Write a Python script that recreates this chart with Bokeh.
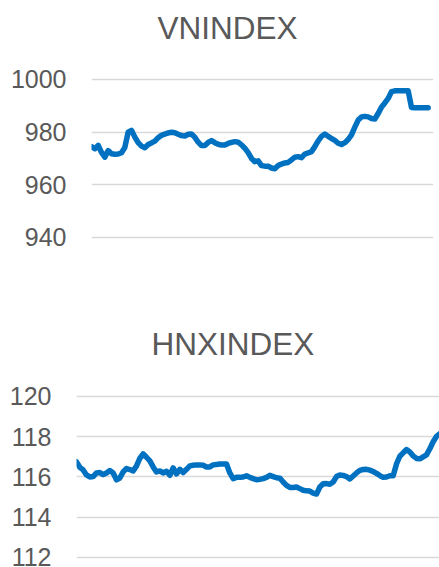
from bokeh.plotting import figure
from bokeh.models import FixedTicker, Range1d, ColumnDataSource
from bokeh.layouts import column
from bokeh.embed import file_html
from bokeh.resources import INLINE

vn_title = "VNINDEX"
vn_ticks = [940, 960, 980, 1000]
vn_values = [
    974.5, 973.7, 975.0, 972.3, 970.5, 973.0, 971.8, 971.6, 971.7, 972.2,
    974.2, 980.0, 980.7, 978.1, 976.0, 974.7, 974.1, 975.3, 975.9, 976.6,
    977.9, 978.8, 979.3, 979.7, 980.0, 979.8, 979.2, 978.7, 978.5, 979.2,
    979.3, 978.1, 976.2, 974.9, 974.9, 976.1, 976.8, 976.0, 975.4, 975.1,
    975.1, 975.7, 976.1, 976.4, 976.2, 975.2, 973.9, 972.2, 970.0, 968.8,
    969.1, 967.3, 967.1, 967.1, 966.4, 966.1, 967.3, 967.9, 968.3, 968.5,
    969.5, 970.5, 970.7, 970.3, 971.7, 972.1, 972.6, 974.5, 976.7, 978.4,
    979.3, 978.4, 977.6, 976.9, 975.8, 975.3, 976.0, 977.2, 979.0, 981.9,
    984.6, 985.8, 986.0, 985.8, 985.2, 985.0, 987.1, 989.5, 991.1, 992.8,
    995.4, 995.7, 995.7, 995.7, 995.7, 995.7, 989.4, 989.3, 989.3, 989.3,
    989.3, 989.3,
]

hnx_title = "HNXINDEX"
hnx_ticks = [112, 114, 116, 118, 120]
hnx_values = [
    116.75, 116.48, 116.35, 116.10, 116.00, 116.02, 116.20, 116.22, 116.12, 116.20,
    116.32, 116.20, 115.86, 115.95, 116.25, 116.42, 116.37, 116.30, 116.55, 116.92,
    117.15, 116.98, 116.80, 116.50, 116.25, 116.30, 116.20, 116.28, 116.08, 116.45,
    116.15, 116.38, 116.22, 116.38, 116.55, 116.58, 116.60, 116.60, 116.58, 116.50,
    116.50, 116.60, 116.62, 116.64, 116.64, 116.64, 116.20, 115.92, 115.98, 115.98,
    116.00, 116.06, 115.98, 115.92, 115.86, 115.88, 115.92, 115.98, 116.08, 116.02,
    115.96, 115.94, 115.75, 115.58, 115.48, 115.48, 115.50, 115.42, 115.34, 115.31,
    115.30, 115.20, 115.15, 115.50, 115.66, 115.67, 115.64, 115.75, 116.02, 116.10,
    116.08, 116.02, 115.90, 116.05, 116.20, 116.33, 116.37, 116.38, 116.34, 116.27,
    116.18, 116.07, 115.98, 116.00, 116.06, 116.06, 116.65, 117.03, 117.20, 117.36,
    117.24, 117.05, 116.92, 116.90, 117.00, 117.10, 117.40, 117.75, 118.02, 118.15,
]

LINE = "#0070C0"
TEXT = "#595959"
GRID = "#D9D9D9"
FONT = "Liberation Sans"


def make(title, values, ticks, yr, xr_end, w, h, bl, br, bt, bb, offset):
    src = ColumnDataSource(dict(x=list(range(len(values))), y=values))
    p = figure(width=w, height=h, output_backend="svg", toolbar_location=None,
               x_axis_type=None, x_range=Range1d(0, xr_end), y_range=Range1d(*yr),
               min_border_left=bl, min_border_right=br, min_border_top=bt,
               min_border_bottom=bb, title=title)
    if "frame_align" in p.properties():
        p.frame_align = False
    p.title.text_font = FONT
    p.title.text_font_size = "31.5px"
    p.title.text_font_style = "normal"
    p.title.text_color = TEXT
    p.title.align = "left"
    p.title.offset = offset
    p.title.standoff = 13
    p.outline_line_color = None
    p.background_fill_color = "white"
    p.border_fill_color = "white"
    p.xgrid.visible = False
    p.yaxis.ticker = FixedTicker(ticks=ticks)
    p.ygrid.ticker = FixedTicker(ticks=ticks)
    p.ygrid.grid_line_color = GRID
    p.ygrid.grid_line_width = 1.5
    ax = p.yaxis[0]
    ax.axis_line_color = None
    ax.major_tick_line_color = None
    ax.minor_tick_line_color = None
    ax.major_tick_out = 0
    ax.major_label_standoff = 25
    ax.major_label_text_font = FONT
    ax.major_label_text_font_size = "25px"
    ax.major_label_text_color = TEXT
    p.line("x", "y", source=src, line_color=LINE, line_width=5.5,
           line_join="round", line_cap="round")
    return p


p1 = make(vn_title, vn_values, vn_ticks, (938.1, 1010.25), 102.6, 439, 316, 91, 6, 52, 74, 66)
p2 = make(hnx_title, hnx_values, hnx_ticks, (111.7, 121.39), 108.9, 439, 251, 76, 0, 52, 4, 75)

layout = column(p1, p2, spacing=0)
open("out.html", "w").write(file_html(layout, INLINE))
